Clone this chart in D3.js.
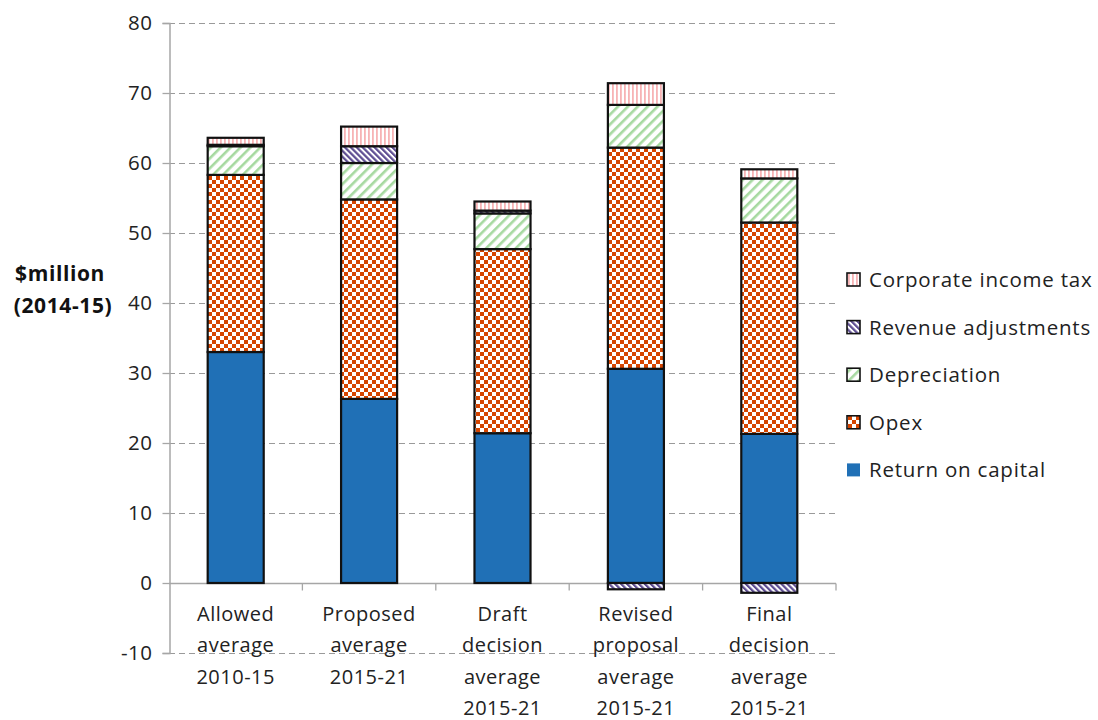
<!DOCTYPE html>
<html>
<head>
<meta charset="utf-8">
<script src="https://cdn.jsdelivr.net/npm/d3@7"></script>
<style>
  html, body { margin: 0; padding: 0; background: #fff; }
  svg { display: block; font-family: "Open Sans", "Noto Sans", sans-serif; }
</style>
</head>
<body>
<svg id="chart" width="1098" height="720"></svg>
<script>
// Building blocks of revenue, $million (2014-15)
const categories = [
  ["Allowed", "average", "2010-15"],
  ["Proposed", "average", "2015-21"],
  ["Draft", "decision", "average", "2015-21"],
  ["Revised", "proposal", "average", "2015-21"],
  ["Final", "decision", "average", "2015-21"]
];
const seriesNames = ["Return on capital", "Opex", "Depreciation", "Revenue adjustments", "Corporate income tax"];
const returnOnCapital    = [33.0, 26.3, 21.4, 30.6, 21.3];
const opex               = [25.3, 28.5, 26.3, 31.6, 30.2];
const depreciation       = [4.1, 5.2, 5.1, 6.1, 6.3];
const revenueAdjustments = [0.2, 2.4, 0.4, -0.9, -1.4];
const corporateIncomeTax = [1.0, 2.8, 1.3, 3.1, 1.3];
const yTicks = [-10, 0, 10, 20, 30, 40, 50, 60, 70, 80];

const seriesValues = [returnOnCapital, opex, depreciation, revenueAdjustments, corporateIncomeTax];
const fills = ["#2070b6", "url(#p-opex)", "url(#p-dep)", "url(#p-rev)", "url(#p-tax)"];

const svg = d3.select("#chart");
const margin = { left: 169, right: 262, top: 23, bottom: 67 };
const W = 1098, H = 720;

const x = d3.scaleBand()
  .domain(categories.map((d, i) => i))
  .range([margin.left, W - margin.right])
  .paddingInner(0.58).paddingOuter(0.29);
const y = d3.scaleLinear().domain([-10, 80]).range([H - margin.bottom, margin.top]);

// Fill patterns
const defs = svg.append("defs");
const cell = 4;
const pOpex = defs.append("pattern").attr("id", "p-opex").attr("patternUnits", "userSpaceOnUse")
  .attr("width", 2 * cell).attr("height", 2 * cell);
pOpex.append("rect").attr("width", 2 * cell).attr("height", 2 * cell).attr("fill", "#fff");
pOpex.append("rect").attr("width", cell).attr("height", cell).attr("fill", "#d64500");
pOpex.append("rect").attr("x", cell).attr("y", cell).attr("width", cell).attr("height", cell).attr("fill", "#d64500");

const pDep = defs.append("pattern").attr("id", "p-dep").attr("patternUnits", "userSpaceOnUse")
  .attr("width", 7).attr("height", 7).attr("patternTransform", "rotate(45)");
pDep.append("rect").attr("width", 7).attr("height", 7).attr("fill", "#fff");
pDep.append("rect").attr("width", 2.6).attr("height", 7).attr("fill", "#a6d9a0");

const pRev = defs.append("pattern").attr("id", "p-rev").attr("patternUnits", "userSpaceOnUse")
  .attr("width", 4.2).attr("height", 4.2).attr("patternTransform", "rotate(-45)");
pRev.append("rect").attr("width", 4.2).attr("height", 4.2).attr("fill", "#fff");
pRev.append("rect").attr("width", 2.2).attr("height", 4.2).attr("fill", "#5d4c91");

const pTax = defs.append("pattern").attr("id", "p-tax").attr("patternUnits", "userSpaceOnUse")
  .attr("width", 4).attr("height", 4);
pTax.append("rect").attr("width", 4).attr("height", 4).attr("fill", "#fff");
pTax.append("rect").attr("width", 1.8).attr("height", 4).attr("fill", "#f7b3b5");

// Gridlines
svg.append("g").selectAll("line").data(yTicks.filter(t => t !== 0)).join("line")
  .attr("x1", margin.left).attr("x2", W - margin.right)
  .attr("y1", d => y(d) + 0.5).attr("y2", d => y(d) + 0.5)
  .attr("stroke", "#9a9a9a").attr("stroke-width", 1).attr("stroke-dasharray", "6,4");

// Y axis
const yAxis = svg.append("g").attr("transform", `translate(${margin.left + 0.5},0)`)
  .call(d3.axisLeft(y).tickValues(yTicks).tickFormat(d => String(d)).tickSize(7).tickPadding(10));
yAxis.select(".domain").attr("stroke", "#a6a6a6").attr("stroke-width", 1.5);
yAxis.selectAll(".tick line").attr("stroke", "#a6a6a6").attr("stroke-width", 1.3);
yAxis.selectAll(".tick text").attr("font-size", 20.5).attr("fill", "#222")
  .attr("font-family", "Open Sans").attr("letter-spacing", 0.5);

// Stacked bars (positives upward, negatives downward from zero)
const segs = [];
categories.forEach((c, i) => {
  let pos = 0, neg = 0;
  seriesValues.forEach((vals, s) => {
    const v = vals[i];
    if (v >= 0) { segs.push({ i, s, y0: pos, y1: pos + v }); pos += v; }
    else { segs.push({ i, s, y0: neg + v, y1: neg }); neg += v; }
  });
});

// Zero line with category tick marks
const zeroY = Math.round(y(0)) + 0.5;
svg.append("line").attr("x1", margin.left).attr("x2", W - margin.right)
  .attr("y1", zeroY).attr("y2", zeroY).attr("stroke", "#a6a6a6").attr("stroke-width", 1.5);
const bounds = d3.range(categories.length + 1).map(k => margin.left + k * (W - margin.left - margin.right) / categories.length);
svg.append("g").selectAll("line").data(bounds.slice(1)).join("line")
  .attr("x1", d => d).attr("x2", d => d).attr("y1", zeroY).attr("y2", zeroY + 7)
  .attr("stroke", "#a6a6a6").attr("stroke-width", 1.3);

svg.append("g").selectAll("rect").data(segs.filter(d => d.y1 - d.y0 > 0)).join("rect")
  .attr("x", d => x(d.i))
  .attr("width", x.bandwidth())
  .attr("y", d => y(d.y1))
  .attr("height", d => y(d.y0) - y(d.y1))
  .attr("fill", d => fills[d.s])
  .attr("stroke", "#111")
  .attr("stroke-width", 2.2);

// Category labels
const xl = svg.append("g").attr("font-size", 20).attr("letter-spacing", 0.5)
  .attr("fill", "#222").attr("text-anchor", "middle");
categories.forEach((lines, i) => {
  const cx = x(i) + x.bandwidth() / 2;
  const t = xl.append("text").attr("x", cx).attr("y", 621).attr("fill", "#222");
  lines.forEach((ln, k) => t.append("tspan").attr("x", cx).attr("y", 621 + k * 31.3).text(ln));
});

// Y axis title
const yt = svg.append("text").attr("font-size", 21).attr("font-weight", "bold").attr("fill", "#111")
  .attr("letter-spacing", 0.6).attr("text-anchor", "middle");
yt.append("tspan").attr("x", 60).attr("y", 281).text("$million");
yt.append("tspan").attr("x", 63).attr("y", 313).text("(2014-15)");

// Legend (top to bottom: reverse series order)
const legend = svg.append("g");
const legendOrder = [4, 3, 2, 1, 0];
legendOrder.forEach((s, k) => {
  const ly = 280 + k * 47.6;
  legend.append("rect").attr("x", 847).attr("y", ly - 7).attr("width", 13).attr("height", 13)
    .attr("fill", fills[s]).attr("stroke", s === 0 ? "none" : "#111").attr("stroke-width", 1.6);
  legend.append("text").attr("x", 869).attr("y", ly + 7).attr("font-size", 20.5)
    .attr("letter-spacing", 0.8).attr("fill", "#222")
    .text(seriesNames[s]);
});
</script>
</body>
</html>
